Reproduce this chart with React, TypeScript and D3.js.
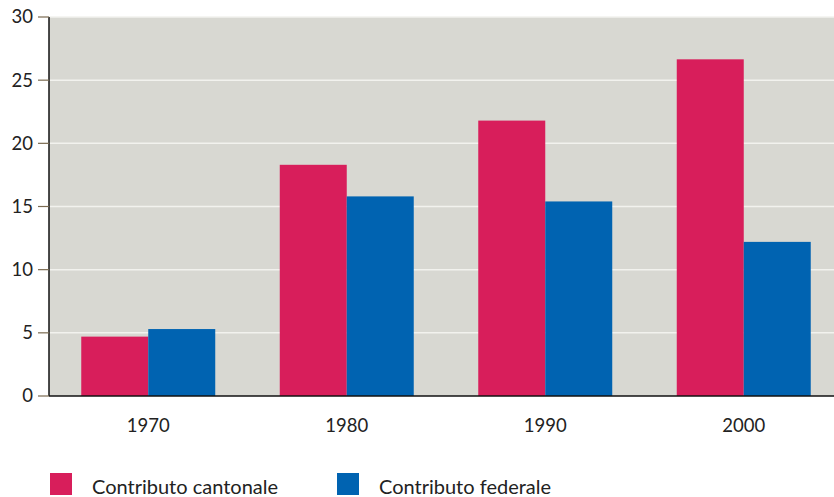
import React from "react";
import * as d3 from "d3";

const years = ["1970", "1980", "1990", "2000"];
const cantonale = [4.7, 18.3, 21.8, 26.65];
const federale = [5.3, 15.8, 15.4, 12.2];
const yTicks = [0, 5, 10, 15, 20, 25, 30];
const seriesNames = ["Contributo cantonale", "Contributo federale"];
const colors = ["#D81E5B", "#0063B1"];

const W = 834;
const H = 497;
const left = 49;
const top = 17;
const bottom = 396;

export default function App() {
  const x = d3
    .scaleBand<string>()
    .domain(years)
    .range([left, left + 4 * 198.5])
    .paddingInner(0.325)
    .paddingOuter(0.1625);
  const sub = d3
    .scaleBand<number>()
    .domain([0, 1])
    .range([0, x.bandwidth()]);
  const y = d3.scaleLinear().domain([0, 30]).range([bottom, top]);
  const font = "Lato, 'Open Sans', sans-serif";
  const series = [cantonale, federale];

  return (
    <svg
      width={W}
      height={H}
      style={{ position: "absolute", left: 0, top: 0, display: "block" }}
      fontFamily={font}
    >
      <rect x={0} y={0} width={W} height={H} fill="#ffffff" />
      <rect x={left} y={top} width={W - left} height={bottom - top} fill="#D8D8D2" />
      {yTicks.filter((t) => t > 0).map((t) => (
        <line key={"g" + t} x1={left} x2={W} y1={y(t)} y2={y(t)} stroke="#F2F2EE" strokeWidth={1.5} />
      ))}
      {series.map((vals, si) =>
        years.map((yr, i) => (
          <rect
            key={si + "-" + yr}
            x={(x(yr) as number) + (sub(si) as number)}
            y={y(vals[i])}
            width={sub.bandwidth()}
            height={bottom - y(vals[i])}
            fill={colors[si]}
          />
        ))
      )}
      <line x1={left} x2={left} y1={top} y2={bottom} stroke="#111" strokeWidth={1.5} />
      <line x1={left} x2={W} y1={bottom} y2={bottom} stroke="#111" strokeWidth={1.5} />
      {yTicks.map((t) => (
        <g key={"t" + t}>
          <line x1={38} x2={left} y1={y(t)} y2={y(t)} stroke="#7a6a50" strokeWidth={1.2} />
          <text x={33} y={y(t)} dy="0.35em" textAnchor="end" fontSize={18.5} fill="#222">
            {t}
          </text>
        </g>
      ))}
      {years.map((yr) => (
        <text
          key={"x" + yr}
          x={(x(yr) as number) + x.bandwidth() / 2}
          y={432}
          textAnchor="middle"
          fontSize={18.5}
          fill="#222"
        >
          {yr}
        </text>
      ))}
      {seriesNames.map((name, i) => {
        const lx = i === 0 ? 50 : 337;
        return (
          <g key={name}>
            <rect x={lx} y={473} width={22} height={22} fill={colors[i]} />
            <text x={lx + 42} y={494} fontSize={20} fill="#222">
              {name}
            </text>
          </g>
        );
      })}
    </svg>
  );
}
